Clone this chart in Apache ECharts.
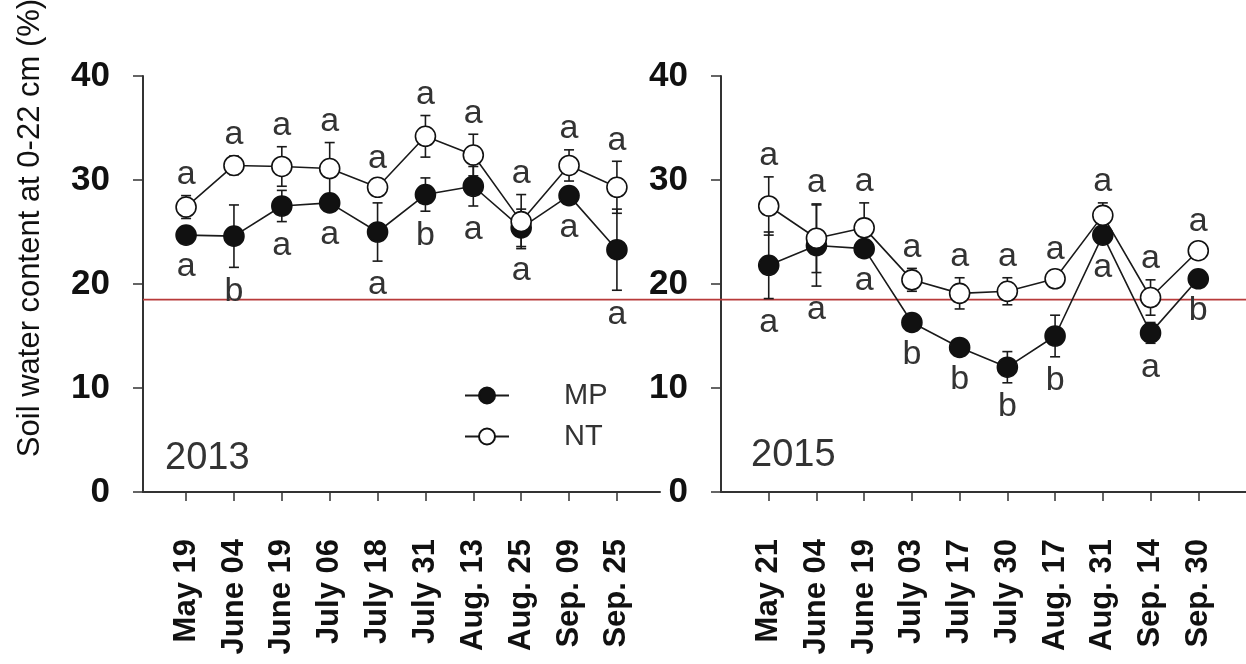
<!DOCTYPE html>
<html>
<head>
<meta charset="utf-8">
<script src="https://cdn.jsdelivr.net/npm/echarts@6/dist/echarts.min.js"></script>
<style>html,body{margin:0;padding:0;background:#fff;}#c{width:1246px;height:664px;}</style>
</head>
<body>
<div id="c"></div>
<script>
const cats2013 = ['May 19','June 04','June 19','July 06','July 18','July 31','Aug. 13','Aug. 25','Sep. 09','Sep. 25'];
const cats2015 = ['May 21','June 04','June 19','July 03','July 17','July 30','Aug. 17','Aug. 31','Sep. 14','Sep. 30'];
const yTicks = [0, 10, 20, 30, 40];

const mp2013 = [24.7, 24.6, 27.5, 27.8, 25.0, 28.6, 29.4, 25.4, 28.5, 23.3];
const mp2013Err = [0.7, 3.0, 1.5, 0.4, 2.8, 1.6, 1.9, 1.8, 0.5, 3.9];
const mp2013Let = ['a','b','a','a','a','b','a','a','a','a'];
const nt2013 = [27.4, 31.4, 31.3, 31.1, 29.3, 34.2, 32.4, 26.0, 31.4, 29.3];
const nt2013Err = [1.1, 0.9, 1.9, 2.5, 0.5, 2.0, 2.0, 2.6, 1.5, 2.5];
const nt2013Let = ['a','a','a','a','a','a','a','a','a','a'];

const mp2015 = [21.8, 23.7, 23.4, 16.3, 13.9, 12.0, 15.0, 24.7, 15.3, 20.5];
const mp2015Err = [3.2, 3.9, 0.8, 0.6, 0.8, 1.5, 2.0, 0.8, 1.0, 0.5];
const mp2015Let = ['a','a','a','b','b','b','b','a','a','b'];
const nt2015 = [27.5, 24.4, 25.4, 20.4, 19.1, 19.3, 20.5, 26.6, 18.7, 23.2];
const nt2015Err = [2.8, 3.3, 2.4, 1.1, 1.5, 1.3, 0.4, 1.2, 1.7, 0.4];
const nt2015Let = ['a','a','a','a','a','a','a','a','a','a'];

const threshold = 18.5;
const yearLabels = ['2013', '2015'];
const yTitle = 'Soil water content at 0-22 cm (%)';

const FONT = '"Liberation Sans", Arial, sans-serif';
const idx = [0,1,2,3,4,5,6,7,8,9];
const pts = arr => arr.map((v, i) => [i, v]);

function errSeries(name, grid, means, errs, letters, above) {
  return {
    type: 'custom', xAxisIndex: grid, yAxisIndex: grid, z: 3, silent: true,
    data: means.map((v, i) => [i, v, errs[i]]),
    renderItem: function (params, api) {
      const x = api.value(0), m = api.value(1), e = api.value(2);
      const c = api.coord([x, m]);
      const t = api.coord([x, m + e]);
      const b = api.coord([x, m - e]);
      const st = { stroke: '#1a1a1a', lineWidth: 1.6 };
      const ch = [
        { type: 'line', shape: { x1: t[0], y1: t[1], x2: b[0], y2: b[1] }, style: st },
        { type: 'line', shape: { x1: t[0] - 5, y1: t[1], x2: t[0] + 5, y2: t[1] }, style: st },
        { type: 'line', shape: { x1: b[0] - 5, y1: b[1], x2: b[0] + 5, y2: b[1] }, style: st }
      ];
      const letter = letters[params.dataIndex];
      let ly;
      if (above) ly = Math.min(t[1], c[1] - 8) - 21;
      else ly = Math.max(b[1], c[1] + 8) + 24;
      ch.push({ type: 'text', z2: 10, style: { text: letter, x: c[0], y: ly, align: 'center', verticalAlign: 'middle', font: '34px ' + FONT, fill: '#333' } });
      return { type: 'group', children: ch };
    }
  };
}

function lineSeries(name, grid, vals, filled) {
  return {
    name: name, type: 'line', xAxisIndex: grid, yAxisIndex: grid, z: 5,
    data: pts(vals), symbol: 'circle', symbolSize: 20,
    lineStyle: { color: '#1a1a1a', width: 1.6 },
    itemStyle: { color: filled ? '#111' : '#fff', borderColor: '#111', borderWidth: 1.6 },
    emphasis: { disabled: true }
  };
}

function xAx(grid, cats, min, max) {
  return {
    type: 'value', gridIndex: grid, min: min, max: max,
    splitLine: { show: false },
    axisLine: { show: true, onZero: false, lineStyle: { color: '#333', width: 2 } },
    axisTick: { show: true, customValues: idx, length: 9, lineStyle: { color: '#333', width: 1.5 } },
    axisLabel: {
      customValues: idx, rotate: 90, margin: 47,
      formatter: v => cats[Math.round(v)],
      fontFamily: FONT, fontWeight: 'bold', fontSize: 31, color: '#111'
    }
  };
}
function yAx(grid) {
  return {
    type: 'value', gridIndex: grid, min: 0, max: 40, interval: 10,
    splitLine: { show: false },
    axisLine: { show: true, onZero: false, lineStyle: { color: '#333', width: 2 } },
    axisTick: { show: true, length: 10, lineStyle: { color: '#333', width: 1.5 } },
    axisLabel: { margin: 33, fontFamily: FONT, fontWeight: 'bold', fontSize: 35, color: '#111',
      formatter: v => (yTicks.indexOf(v) >= 0 ? String(v) : '') }
  };
}

const chart = echarts.init(document.getElementById('c'), null, { renderer: 'canvas' });
chart.setOption({
  animation: false,
  backgroundColor: '#fff',
  grid: [
    { left: 143, top: 76, width: 517, height: 416 },
    { left: 721, top: 76, width: 525, height: 416 },
    { left: 143, top: 76, right: 0, height: 416 }
  ],
  xAxis: [
    xAx(0, cats2013, -0.9, 9.9),
    xAx(1, cats2015, -1, 10),
    { type: 'value', gridIndex: 2, min: 0, max: 1, show: false }
  ],
  yAxis: [
    yAx(0), yAx(1),
    { type: 'value', gridIndex: 2, min: 0, max: 40, show: false }
  ],
  legend: {
    orient: 'vertical', left: 459, top: 376, itemWidth: 44, itemHeight: 20, itemGap: 12,
    data: ['MP', 'NT'], selectedMode: false,
    textStyle: { fontFamily: FONT, fontSize: 29, color: '#333', padding: [0, 0, 0, 50] }
  },
  graphic: [
    { type: 'text', x: 30, y: 228, rotation: Math.PI / 2,
      style: { text: yTitle, font: '31px ' + FONT, fill: '#111', align: 'center', verticalAlign: 'middle' } },
    { type: 'text', x: 165, y: 459, style: { text: yearLabels[0], font: '38px ' + FONT, fill: '#333', verticalAlign: 'middle' } },
    { type: 'text', x: 751, y: 456, style: { text: yearLabels[1], font: '38px ' + FONT, fill: '#333', verticalAlign: 'middle' } }
  ],
  series: [
    { type: 'line', xAxisIndex: 2, yAxisIndex: 2, data: [[0, threshold], [1, threshold]], symbol: 'none', z: 1,
      lineStyle: { color: '#b83a3a', width: 1.6 }, silent: true },
    errSeries('MPe13', 0, mp2013, mp2013Err, mp2013Let, false),
    errSeries('NTe13', 0, nt2013, nt2013Err, nt2013Let, true),
    errSeries('MPe15', 1, mp2015, mp2015Err, mp2015Let, false),
    errSeries('NTe15', 1, nt2015, nt2015Err, nt2015Let, true),
    lineSeries('MP', 0, mp2013, true),
    lineSeries('NT', 0, nt2013, false),
    lineSeries('MP', 1, mp2015, true),
    lineSeries('NT', 1, nt2015, false)
  ]
});
</script>
</body>
</html>
